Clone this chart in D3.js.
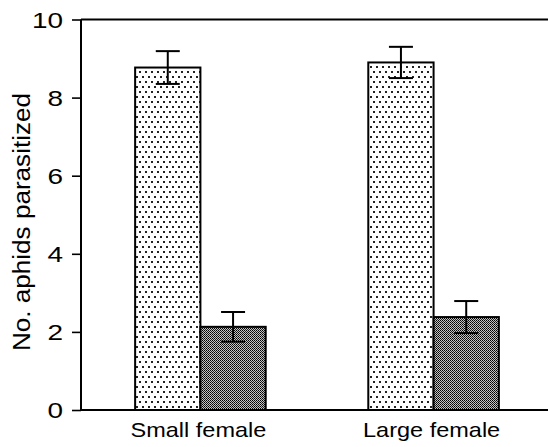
<!DOCTYPE html>
<html><head><meta charset="utf-8">
<script src="https://cdn.jsdelivr.net/npm/d3@7"></script>
<style>body{margin:0;background:#fff}svg{display:block}text{font-family:"Liberation Sans",Arial,sans-serif;fill:#000}</style>
</head><body><div id="c"></div>
<script>
const categories = ["Small female", "Large female"];
const seriesNames = ["light", "dark"];
const lightValues = [8.77, 8.9];
const lightErr = [0.42, 0.4];
const darkValues = [2.13, 2.38];
const darkErr = [0.38, 0.41];
const yTicks = [0, 2, 4, 6, 8, 10];

const W = 548, H = 447;
const svg = d3.select("#c").append("svg").attr("width", W).attr("height", H);
const defs = svg.append("defs");
const p1 = defs.append("pattern").attr("id","dots").attr("patternUnits","userSpaceOnUse").attr("width",6).attr("height",10);
p1.append("rect").attr("width",6).attr("height",10).attr("fill","#fff");
p1.append("rect").attr("x",1).attr("y",1).attr("width",2).attr("height",2).attr("fill","#222");
p1.append("rect").attr("x",4).attr("y",6).attr("width",2).attr("height",2).attr("fill","#222");
const p2 = defs.append("pattern").attr("id","mesh").attr("patternUnits","userSpaceOnUse").attr("width",2).attr("height",2);
p2.append("rect").attr("width",2).attr("height",2).attr("fill","#c4c4c4");
p2.append("rect").attr("x",0).attr("y",0).attr("width",1).attr("height",1).attr("fill","#000");
p2.append("rect").attr("x",1).attr("y",1).attr("width",1).attr("height",1).attr("fill","#222");

const axX = 81, y0 = 410, y10 = 19.5;
const y = d3.scaleLinear().domain([0,10]).range([y0, y10]);
const x = d3.scaleBand().domain(categories).range([85, 549]).paddingInner(0.44).paddingOuter(0.215);
const xs = d3.scaleBand().domain(seriesNames).range([0, x.bandwidth()]);

const data = [];
categories.forEach((c,i)=>{
  data.push({c, s:"light", v:lightValues[i], e:lightErr[i]});
  data.push({c, s:"dark", v:darkValues[i], e:darkErr[i]});
});

svg.selectAll("rect.bar").data(data).enter().append("rect")
  .attr("class","bar")
  .attr("x", d=>x(d.c)+xs(d.s))
  .attr("y", d=>y(d.v))
  .attr("width", xs.bandwidth())
  .attr("height", d=>y0-y(d.v))
  .attr("fill", d=>d.s==="light"?"url(#dots)":"url(#mesh)")
  .attr("stroke","#000").attr("stroke-width",2);

const eb = svg.selectAll("g.eb").data(data).enter().append("g").attr("class","eb")
  .attr("stroke","#000").attr("stroke-width",2);
eb.append("line").attr("x1",d=>x(d.c)+xs(d.s)+xs.bandwidth()/2).attr("x2",d=>x(d.c)+xs(d.s)+xs.bandwidth()/2)
  .attr("y1",d=>y(d.v+d.e)).attr("y2",d=>y(d.v-d.e));
[1,-1].forEach(sg=>{
  eb.append("line").attr("x1",d=>x(d.c)+xs(d.s)+xs.bandwidth()/2-12).attr("x2",d=>x(d.c)+xs(d.s)+xs.bandwidth()/2+12)
    .attr("y1",d=>y(d.v+sg*d.e)).attr("y2",d=>y(d.v+sg*d.e));
});

// frame lines
svg.append("line").attr("x1",axX).attr("x2",W).attr("y1",y10).attr("y2",y10).attr("stroke","#000").attr("stroke-width",2);
svg.append("line").attr("x1",axX).attr("x2",W).attr("y1",y0).attr("y2",y0).attr("stroke","#000").attr("stroke-width",2);

// y axis
const yAxis = d3.axisLeft(y).tickValues(yTicks).tickSize(9).tickFormat(d3.format("d"));
const gy = svg.append("g").attr("transform",`translate(${axX},0)`).call(yAxis);
gy.select(".domain").attr("stroke","#000").attr("stroke-width",2).attr("d",`M0,${y0}V${y10}`);
gy.selectAll(".tick line").attr("stroke","#000").attr("stroke-width",1.6);
gy.selectAll(".tick text").attr("x",null).attr("dy",null)
  .attr("transform","translate(-18,7.5) scale(1.3,1)")
  .attr("font-size",21.5).attr("font-family","Liberation Sans, Arial, sans-serif").attr("fill","#000")
  .attr("text-anchor","end");

// x labels
svg.selectAll("text.cat").data(categories).enter().append("text").attr("class","cat")
  .attr("transform",d=>`translate(${x(d)+x.bandwidth()/2-2},437) scale(1.12,1)`)
  .attr("text-anchor","middle").attr("font-size",21).text(d=>d);

// y label
svg.append("text").attr("transform","translate(30,222) rotate(-90)")
  .attr("text-anchor","middle").attr("font-size",23)
  .attr("textLength",258).attr("lengthAdjust","spacingAndGlyphs")
  .text("No. aphids parasitized");
</script></body></html>
